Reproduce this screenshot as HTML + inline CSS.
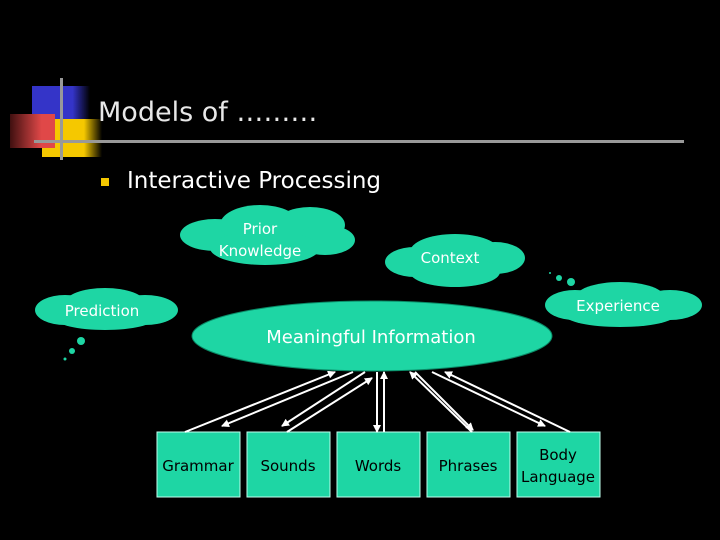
<!DOCTYPE html>
<html><head><style>
body{margin:0;background:#000;width:720px;height:540px;overflow:hidden}
svg{display:block}
text{font-family:"DejaVu Sans","Liberation Sans",sans-serif}
</style></head><body>
<svg width="720" height="540" viewBox="0 0 720 540">
<defs>
<marker id="a" markerWidth="8" markerHeight="8" refX="7" refY="4" orient="auto" markerUnits="userSpaceOnUse"><path d="M0,0 L8,4 L0,8 z" fill="#fff"/></marker>
<linearGradient id="gb" x1="0" x2="1"><stop offset="0.7" stop-color="#3434c8"/><stop offset="1" stop-color="#000"/></linearGradient>
<linearGradient id="gy" x1="0" x2="1"><stop offset="0.7" stop-color="#f5c800"/><stop offset="1" stop-color="#000"/></linearGradient>
<linearGradient id="gr" x1="1" x2="0"><stop offset="0.3" stop-color="#e04848"/><stop offset="1" stop-color="#401010"/></linearGradient>
</defs>
<rect x="32" y="86" width="58" height="40" fill="url(#gb)"/>
<rect x="42" y="119" width="60" height="38" fill="url(#gy)"/>
<rect x="10" y="114" width="45" height="34" fill="url(#gr)"/>
<rect x="60" y="78" width="3" height="82" fill="#999"/>
<rect x="34" y="140" width="650" height="3" fill="#999"/>
<text x="98" y="121" font-size="27" fill="#e8e8e8">Models of ………</text>
<rect x="101" y="178" width="8" height="8" fill="#f5c800"/>
<text x="127" y="188" font-size="23" fill="#fff">Interactive Processing</text>
<g fill="#1ed6a4">
<ellipse cx="215" cy="235" rx="35" ry="16"/><ellipse cx="260" cy="225" rx="40" ry="20"/><ellipse cx="310" cy="225" rx="35" ry="18"/><ellipse cx="325" cy="240" rx="30" ry="15"/><ellipse cx="265" cy="248" rx="55" ry="17"/>
<ellipse cx="415" cy="262" rx="30" ry="15"/><ellipse cx="455" cy="252" rx="45" ry="18"/><ellipse cx="495" cy="258" rx="30" ry="16"/><ellipse cx="455" cy="272" rx="45" ry="15"/>
<ellipse cx="65" cy="310" rx="30" ry="15"/><ellipse cx="105" cy="303" rx="40" ry="15"/><ellipse cx="145" cy="310" rx="33" ry="15"/><ellipse cx="105" cy="318" rx="50" ry="12"/>
<ellipse cx="575" cy="305" rx="30" ry="15"/><ellipse cx="620" cy="298" rx="45" ry="16"/><ellipse cx="670" cy="305" rx="32" ry="15"/><ellipse cx="620" cy="315" rx="55" ry="12"/>
<circle cx="81" cy="341" r="4"/><circle cx="72" cy="351" r="3"/><circle cx="65" cy="359" r="1.5"/>
<circle cx="571" cy="282" r="4"/><circle cx="559" cy="278" r="3"/><circle cx="550" cy="273" r="1"/>
</g>
<ellipse cx="372" cy="336" rx="180" ry="35" fill="#1ed6a4" stroke="#0a8a66"/>
<g fill="#fff" font-size="15" text-anchor="middle">
<text x="260" y="234">Prior</text><text x="260" y="256">Knowledge</text>
<text x="450" y="263">Context</text>
<text x="102" y="316">Prediction</text>
<text x="618" y="311">Experience</text>
<text x="371" y="343" font-size="18">Meaningful Information</text>
</g>
<g fill="#1ed6a4" stroke="#c0ffee" stroke-width="1">
<rect x="157" y="432" width="83" height="65"/><rect x="247" y="432" width="83" height="65"/><rect x="337" y="432" width="83" height="65"/><rect x="427" y="432" width="83" height="65"/><rect x="517" y="432" width="83" height="65"/>
</g>
<g font-size="15" text-anchor="middle" fill="#000">
<text x="198" y="471">Grammar</text><text x="288" y="471">Sounds</text><text x="378" y="471">Words</text><text x="468" y="471">Phrases</text>
<text x="558" y="460">Body</text><text x="558" y="482">Language</text>
</g>
<g stroke="#fff" stroke-width="2" marker-end="url(#a)">
<line x1="185" y1="432" x2="335" y2="372"/>
<line x1="353" y1="372" x2="222" y2="426"/>
<line x1="365" y1="372" x2="282" y2="426"/>
<line x1="287" y1="432" x2="372" y2="378"/>
<line x1="377" y1="372" x2="377" y2="432"/>
<line x1="384" y1="432" x2="384" y2="372"/>
<line x1="472" y1="432" x2="410" y2="372"/>
<line x1="415" y1="372" x2="473" y2="430"/>
<line x1="432" y1="372" x2="545" y2="426"/>
<line x1="570" y1="432" x2="445" y2="372"/>
</g>
</svg>
</body></html>
